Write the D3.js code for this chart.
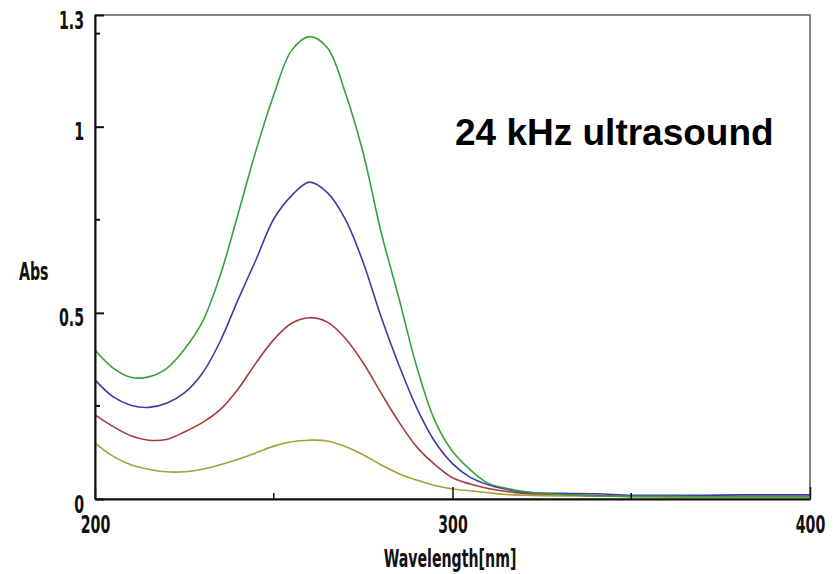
<!DOCTYPE html>
<html>
<head>
<meta charset="utf-8">
<script src="https://cdn.jsdelivr.net/npm/d3@7"></script>
<style>
  body { margin: 0; background: #fff; }
  .ax text, .lbl { font-family: "DejaVu Sans", sans-serif; font-stretch: condensed; font-weight: bold; font-size: 25px; fill: #111; }
</style>
</head>
<body>
<div id="chart"></div>
<script>
    // spectra (wavelength in nm, absorbance)
    var wavelengths = [200, 205, 210, 215, 220, 225, 230, 235, 240, 245, 250, 255, 260, 265, 270, 275, 280,
                       285, 290, 295, 300, 305, 310, 315, 320, 330, 340, 350, 360, 370, 380, 390, 400];
    var absGreen = [0.400, 0.352, 0.327, 0.328, 0.350, 0.402, 0.475, 0.600, 0.765, 0.935, 1.085, 1.205, 1.242, 1.212, 1.092, 0.930, 0.718,
                    0.540, 0.355, 0.212, 0.128, 0.078, 0.042, 0.029, 0.020, 0.012, 0.008, 0.007, 0.007, 0.006, 0.006, 0.006, 0.006];
    var absBlue = [0.320, 0.275, 0.252, 0.246, 0.257, 0.285, 0.337, 0.423, 0.535, 0.642, 0.752, 0.815, 0.851, 0.823, 0.752, 0.636, 0.490,
                   0.360, 0.245, 0.155, 0.095, 0.058, 0.038, 0.026, 0.018, 0.015, 0.014, 0.010, 0.010, 0.010, 0.011, 0.011, 0.011];
    var absRed = [0.226, 0.195, 0.170, 0.158, 0.160, 0.180, 0.205, 0.240, 0.295, 0.365, 0.428, 0.472, 0.487, 0.475, 0.432, 0.366, 0.285,
                  0.207, 0.140, 0.093, 0.057, 0.040, 0.028, 0.020, 0.015, 0.012, 0.009, 0.007, 0.006, 0.006, 0.006, 0.006, 0.006];
    var absOlive = [0.150, 0.115, 0.092, 0.080, 0.073, 0.073, 0.080, 0.092, 0.107, 0.124, 0.142, 0.154, 0.158, 0.156, 0.141, 0.119, 0.092,
                    0.068, 0.051, 0.036, 0.027, 0.022, 0.017, 0.012, 0.010, 0.008, 0.008, 0.007, 0.007, 0.007, 0.007, 0.007, 0.007];
    var xTicks = [200, 300, 400];
    var xMinor = [250, 350];
    var yTicks = [0, 0.5, 1, 1.3];
    var yMinor = [0.25, 0.75, 1.25];

    var w = 836,
        h = 574,
        pLeft = 95, pRight = 810,   // plot frame
        pTop = 15, pBottom = 499,
        squeeze = 0.63;             // narrow look of the instrument font

    var x = d3.scaleLinear().domain([200, 400]).range([pLeft, pRight]),
        y = d3.scaleLinear().domain([0, 1.3]).range([pBottom, pTop]);

    var svg = d3.select('#chart')
        .append('svg')
        .attr('width', w)
        .attr('height', h);

    // squeeze a text horizontally around its own anchor
    function narrow(sel) {
        sel.each(function () {
            var t = d3.select(this),
                x0 = +t.attr('x') || 0;
            t.attr('x', 0).attr('transform', 'translate(' + x0 + ',0) scale(' + squeeze + ',1)');
        });
    }

    // frame
    svg.append('rect')
        .attr('x', pLeft).attr('y', pTop)
        .attr('width', pRight - pLeft).attr('height', pBottom - pTop)
        .attr('fill', 'none')
        .attr('stroke', '#444')
        .attr('stroke-width', 1.3);

    var series = [
        { vals: absOlive, color: '#a3a332' },
        { vals: absRed, color: '#a83c3c' },
        { vals: absBlue, color: '#3c3ca8' },
        { vals: absGreen, color: '#36a336' }
    ];

    var line = d3.line()
        .x(function (d) { return x(d[0]); })
        .y(function (d) { return y(d[1]); })
        .curve(d3.curveCatmullRom.alpha(0.5));

    svg.append('g').attr('class', 'lines')
        .selectAll('path')
        .data(series)
        .enter().append('path')
        .attr('fill', 'none')
        .attr('stroke', function (d) { return d.color; })
        .attr('stroke-width', 1.6)
        .attr('d', function (d) { return line(d3.zip(wavelengths, d.vals)); });

    // axes, ticks point inward
    var yAxis = d3.axisLeft(y)
        .tickValues(yTicks)
        .tickFormat(function (d) { return d3.format('~g')(d); })
        .tickSizeInner(-9).tickSizeOuter(0).tickPadding(11);
    var gy = svg.append('g').attr('class', 'ax')
        .attr('transform', 'translate(' + pLeft + ',0)')
        .call(yAxis);
    gy.selectAll('.tick line').attr('stroke', '#111').attr('stroke-width', 2);
    gy.select('.domain').attr('stroke', '#111').attr('stroke-width', 2);
    gy.selectAll('.tick text').attr('dy', '0.52em').call(narrow);

    var xAxis = d3.axisBottom(x)
        .tickValues(xTicks)
        .tickFormat(d3.format('d'))
        .tickSizeInner(-12).tickSizeOuter(0).tickPadding(16);
    var gx = svg.append('g').attr('class', 'ax')
        .attr('transform', 'translate(0,' + pBottom + ')')
        .call(xAxis);
    gx.selectAll('.tick line').attr('stroke', '#111').attr('stroke-width', 1.5);
    gx.select('.domain').attr('stroke', '#111').attr('stroke-width', 2);
    gx.selectAll('.tick text').call(narrow);

    svg.append('g').selectAll('line')
        .data(yMinor)
        .enter().append('line')
        .attr('x1', pLeft).attr('x2', pLeft + 5)
        .attr('y1', function (d) { return y(d); })
        .attr('y2', function (d) { return y(d); })
        .attr('stroke', '#111').attr('stroke-width', 2);

    svg.append('g').selectAll('line')
        .data(xMinor)
        .enter().append('line')
        .attr('x1', function (d) { return x(d); })
        .attr('x2', function (d) { return x(d); })
        .attr('y1', pBottom).attr('y2', pBottom - 6)
        .attr('stroke', '#111').attr('stroke-width', 1.5);

    // labels
    svg.append('text').attr('class', 'lbl')
        .attr('x', 19).attr('y', 280)
        .text('Abs')
        .call(narrow);

    svg.append('text').attr('class', 'lbl')
        .attr('x', 450).attr('y', 567)
        .attr('text-anchor', 'middle')
        .text('Wavelength[nm]')
        .call(narrow);

    svg.append('text')
        .attr('x', 455).attr('y', 145)
        .attr('font-family', 'Liberation Sans, Arial, sans-serif')
        .attr('font-weight', 'bold')
        .attr('font-size', 37)
        .attr('fill', '#000')
        .text('24 kHz ultrasound');
</script>
</body>
</html>
